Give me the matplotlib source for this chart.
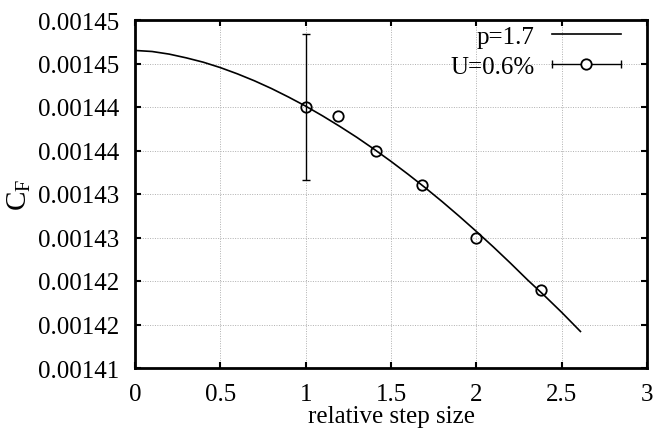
import matplotlib
matplotlib.use("Agg")
import matplotlib.pyplot as plt
from matplotlib.lines import Line2D
from matplotlib.legend_handler import HandlerBase

# ---- data ----
# fitted curve (p=1.7)
curve_x = [0.0, 0.1, 0.2, 0.3, 0.4, 0.5, 0.6, 0.7, 0.8, 0.9, 1.0, 1.1, 1.2, 1.3,
           1.4, 1.5, 1.6, 1.7, 1.8, 1.9, 2.0, 2.1, 2.2, 2.3, 2.4, 2.5, 2.61]
curve_y = [0.0014465, 0.00144638, 0.00144608, 0.00144565, 0.00144515,
           0.00144453, 0.00144381, 0.00144301, 0.00144212, 0.00144114,
           0.0014401, 0.00143897, 0.00143777, 0.00143651, 0.00143516,
           0.00143375, 0.00143227, 0.00143073, 0.00142912, 0.00142744,
           0.0014257, 0.00142391, 0.00142205, 0.00142013, 0.00141830,
           0.00141640, 0.0014142]
# grid solutions
pts_x = [1.0, 1.19, 1.41, 1.68, 2.0, 2.38]
pts_y = [0.001440, 0.001439, 0.001435, 0.001431, 0.001425, 0.001419]
# uncertainty bar (only on finest grid point)
err_x = [1.0]
err_y = [0.001440]
err_val = [0.0000084]

x_ticks = [0, 0.5, 1, 1.5, 2, 2.5, 3]
y_ticks = [0.00141, 0.001415, 0.00142, 0.001425, 0.00143, 0.001435, 0.00144, 0.001445, 0.00145]
y_tick_labels = ["0.00141", "0.00142", "0.00142", "0.00143", "0.00143",
                 "0.00144", "0.00144", "0.00145", "0.00145"]
legend_fit = "p=1.7"
legend_pts = "U=0.6%"
xlabel = "relative step size"
ylabel = r"$\mathrm{C_F}$"

plt.rcParams['font.family'] = ['Liberation Serif']
plt.rcParams['mathtext.fontset'] = 'custom'
plt.rcParams['mathtext.rm'] = 'Liberation Serif'
plt.rcParams['mathtext.it'] = 'Liberation Serif:italic'

FS = 18

fig = plt.figure(figsize=(6.55, 4.31), dpi=100)
ax = fig.add_axes([135/655, 1 - 369/431, (647 - 135)/655, (369 - 21)/431])

ax.plot(curve_x, curve_y, color='black', lw=1.2, zorder=3)
ax.errorbar(err_x, err_y, yerr=err_val, fmt='none', ecolor='black',
            elinewidth=1.0, capsize=3, capthick=1.0, zorder=3)
ax.plot(pts_x, pts_y, 'o', mfc='none', mec='black', mew=1.3, ms=7.5, zorder=4)

ax.set_xlim(0, 3)
ax.set_ylim(0.00141, 0.00145)
ax.set_xticks(x_ticks)
ax.set_xticklabels([f"{v:g}" for v in x_ticks])
ax.set_yticks(y_ticks)
ax.set_yticklabels(y_tick_labels)

ax.tick_params(direction='in', length=4, width=1.5, top=True, right=True,
               labelsize=FS, pad=11)
ax.tick_params(axis='y', pad=11)
for s in ax.spines.values():
    s.set_linewidth(2.0)
ax.grid(True, color='#b0b0b0', linestyle=(0, (1, 1.5)), linewidth=0.7)
ax.set_axisbelow(True)

ax.set_xlabel(xlabel, fontsize=FS, labelpad=0)
ax.set_ylabel(ylabel, fontsize=FS + 3, labelpad=4)


class HandlerFit(HandlerBase):
    def create_artists(self, legend, orig_handle, xdescent, ydescent,
                       width, height, fontsize, trans):
        y = (height - ydescent) / 2
        ln = Line2D([-xdescent, width - xdescent], [y, y], color='black', lw=1.2)
        ln.set_transform(trans)
        return [ln]


class HandlerErr(HandlerBase):
    def create_artists(self, legend, orig_handle, xdescent, ydescent,
                       width, height, fontsize, trans):
        y = (height - ydescent) / 2
        x0, x1 = -xdescent, width - xdescent
        ln = Line2D([x0, x1], [y, y], color='black', lw=1.0)
        caps = Line2D([x0, x1], [y, y], ls='none', marker='|', ms=6,
                      mew=1.0, color='black')
        circ = Line2D([(x0 + x1) / 2], [y], ls='none', marker='o', ms=7.5,
                      mfc='white', mec='black', mew=1.3)
        for a in (ln, caps, circ):
            a.set_transform(trans)
        return [ln, caps, circ]


h_fit = Line2D([], [])
h_err = Line2D([], [], marker='o')
leg = ax.legend([h_fit, h_err], [legend_fit, legend_pts],
                handler_map={h_fit: HandlerFit(), h_err: HandlerErr()},
                loc='upper right', bbox_to_anchor=(0.959, 1.0),
                frameon=False, markerfirst=False, fontsize=FS,
                handlelength=2.75, handletextpad=0.7, labelspacing=0.3,
                borderpad=0.0, borderaxespad=0.22)

fig.savefig("out.png", dpi=100)
